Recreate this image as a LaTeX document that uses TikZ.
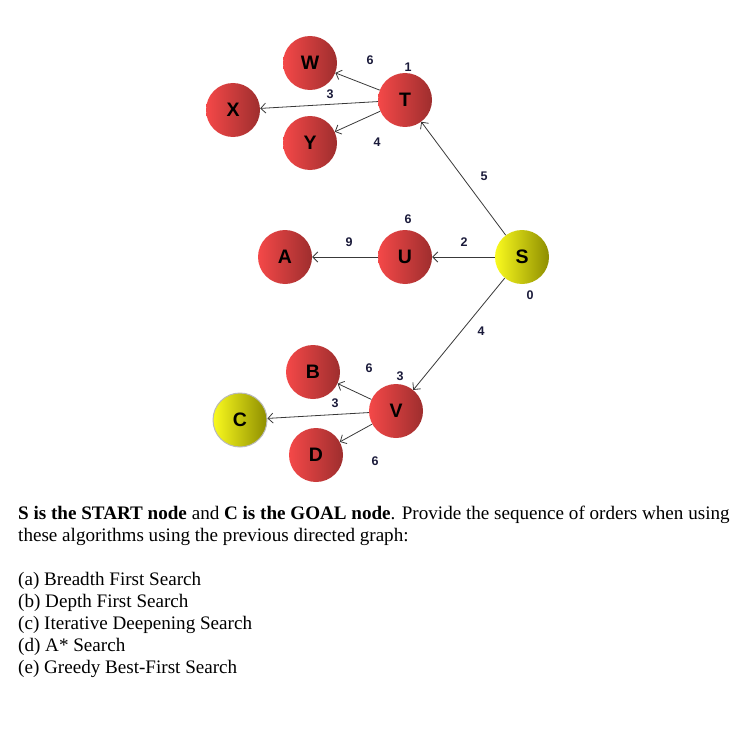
\documentclass[tikz,border=0pt]{standalone}
\usepackage{fontspec}
\setmainfont{Liberation Serif}
\newfontfamily\nodefont{Liberation Sans}
\usetikzlibrary{arrows.meta}
\definecolor{redL}{HTML}{F44848}
\definecolor{redR}{HTML}{9E2E2E}
\definecolor{yelL}{HTML}{FAFA1E}
\definecolor{yelR}{HTML}{8E8E00}
\definecolor{wtcol}{HTML}{1A1A3A}

\begin{document}
\begin{tikzpicture}[x=1pt, y=-1pt, >={Straight Barb[length=5pt,width=10pt]}]
    \tikzset{
        city/.style={circle, minimum size=54pt, inner sep=0pt,
            left color=redL, right color=redR,
            font=\nodefont\fontsize{19.5}{20}\selectfont\bfseries},
        goal/.style={city, left color=yelL, right color=yelR},
        edge/.style={->, draw=gray!45!black, line width=0.8pt},
        wt/.style={font=\nodefont\fontsize{12.5}{13}\selectfont\bfseries, text=wtcol, inner sep=1pt}
    }
    \useasboundingbox (0,0) rectangle (749,733);
    % Top group
    \node[city] (W) at (310,63) {W};
    \node[city] (T) at (405,100) {T};
    \node[city] (X) at (233,110) {X};
    \node[city] (Y) at (310,143) {Y};
    % Middle group
    \node[city] (A) at (285,257) {A};
    \node[city] (U) at (405,257) {U};
    \node[goal] (S) at (522,257) {S};
    % Bottom group
    \node[city] (B) at (313,372) {B};
    \node[city] (V) at (396,411) {V};
    \node[goal, draw=gray!55, line width=1pt] (C) at (240,420) {C};
    \node[city] (D) at (316,455) {D};
    % Edges
    \draw[edge] (T) -- (W);
    \draw[edge] (T) -- (X);
    \draw[edge] (T) -- (Y);
    \draw[edge] (S) -- (T);
    \draw[edge] (S) -- (U);
    \draw[edge] (U) -- (A);
    \draw[edge] (S) -- (V);
    \draw[edge] (V) -- (B);
    \draw[edge] (V) -- (C);
    \draw[edge] (V) -- (D);
    % Costs and heuristics
    \node[wt] (hT) at (408,67) {1};
    \node[wt] (cTW) at (370,60) {6};
    \node[wt] (cTX) at (330,94) {3};
    \node[wt] (cTY) at (377,142) {4};
    \node[wt] (cST) at (484,176) {5};
    \node[wt] (hU) at (408,219) {6};
    \node[wt] (cUA) at (349,242) {9};
    \node[wt] (cSU) at (464,242) {2};
    \node[wt] (hS) at (530,295) {0};
    \node[wt] (cSV) at (481,331) {4};
    \node[wt] (hV) at (400,376) {3};
    \node[wt] (cVB) at (369,368) {6};
    \node[wt] (cVC) at (335,403) {3};
    \node[wt] (cVD) at (375,461) {6};
    % Question text
    \node[anchor=north west, align=left, inner sep=0pt,
        font=\fontsize{19.1}{22}\selectfont] (question) at (18,505.5)
        {\textbf{S is the START node} and \textbf{C is the GOAL node}. Provide the sequence of orders when using\\
        these algorithms using the previous directed graph:\\[22pt]
        (a) Breadth First Search\\
        (b) Depth First Search\\
        (c) Iterative Deepening Search\\
        (d) A* Search\\
        (e) Greedy Best-First Search};
\end{tikzpicture}
\end{document}
